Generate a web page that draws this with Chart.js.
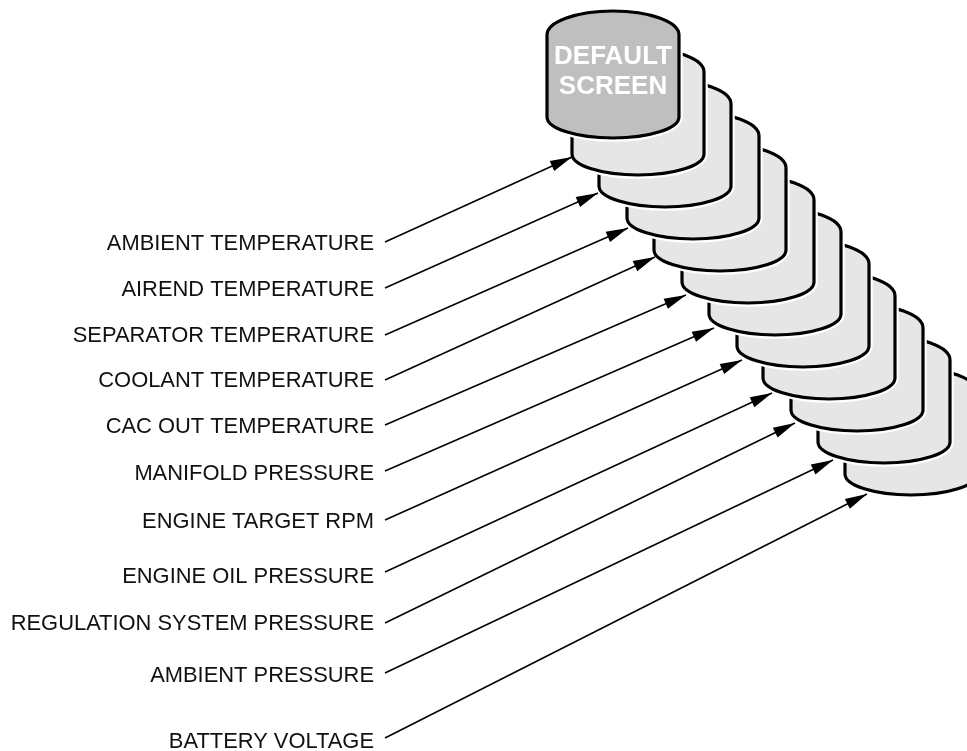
<!DOCTYPE html>
<html lang="en">
<head>
  <meta charset="UTF-8">
  <title>Default Screen Menu</title>
  <script src="https://cdn.jsdelivr.net/npm/chart.js"></script>
  <style>
    html, body { margin: 0; padding: 0; background: #fff; }
  </style>
</head>
<body>
  <canvas id="menu" width="967" height="751"></canvas>
  <script>
    // Menu screens, top one is the default screen
    const screenLabels = [
      "AMBIENT TEMPERATURE",
      "AIREND TEMPERATURE",
      "SEPARATOR TEMPERATURE",
      "COOLANT TEMPERATURE",
      "CAC OUT TEMPERATURE",
      "MANIFOLD PRESSURE",
      "ENGINE TARGET RPM",
      "ENGINE OIL PRESSURE",
      "REGULATION SYSTEM PRESSURE",
      "AMBIENT PRESSURE",
      "BATTERY VOLTAGE"
    ];
    const defaultTitle = ["DEFAULT", "SCREEN"];

    // Stack of screen cards: left edge / bottom edge
    const cardLeft   = [547, 572, 599, 627, 654, 682, 709, 737, 763, 791, 818, 845];
    const cardBottom = [138, 175, 207, 239, 271, 303, 335, 367, 399, 431, 463, 495];

    // Label rows and leader arrows
    const labelRight = 374;
    const labelY     = [243, 289, 335, 380, 426, 473, 521, 576, 623, 675, 741];
    const arrowFromX = 385;
    const arrowFromY = [242, 288, 335, 380, 425, 471, 520, 572, 623, 673, 738];
    const arrowToX   = [572, 598, 628, 655, 686, 714, 742, 772, 795, 833, 867];
    const arrowToY   = [157, 193, 228, 257, 295, 328, 360, 393, 423, 460, 494];

    const CARD_W = 132, CARD_H = 127, CAP_TOP = 24, CAP_BOT = 21;

    function cardPath(ctx, left, bottom) {
      const cx = left + CARD_W / 2, top = bottom - CARD_H;
      ctx.beginPath();
      ctx.moveTo(left, top + CAP_TOP);
      ctx.ellipse(cx, top + CAP_TOP, CARD_W / 2, CAP_TOP, 0, Math.PI, 2 * Math.PI);
      ctx.lineTo(left + CARD_W, bottom - CAP_BOT);
      ctx.ellipse(cx, bottom - CAP_BOT, CARD_W / 2, CAP_BOT, 0, 0, Math.PI);
      ctx.closePath();
    }

    const cardsPlugin = {
      id: "cards",
      beforeDatasetsDraw(chart) {
        const { ctx } = chart;
        const pts = chart.getDatasetMeta(0).data;
        ctx.save();
        ctx.lineJoin = "round";
        // back cards first so the default screen ends up on top
        for (let i = pts.length - 1; i >= 0; i--) {
          const p = pts[i];
          cardPath(ctx, p.x, p.y);
          ctx.strokeStyle = "#fff";
          ctx.lineWidth = 7.5;
          ctx.stroke();
          ctx.fillStyle = i === 0 ? "#bfbfbf" : "#e6e6e6";
          ctx.fill();
          ctx.strokeStyle = "#000";
          ctx.lineWidth = 3.2;
          ctx.stroke();
        }
        // title on the default card
        const p0 = pts[0];
        ctx.fillStyle = "#fff";
        ctx.font = "bold 26px 'Liberation Sans', Arial, sans-serif";
        ctx.textAlign = "center";
        ctx.textBaseline = "middle";
        ctx.fillText(defaultTitle[0], p0.x + CARD_W / 2, p0.y - 81);
        ctx.fillText(defaultTitle[1], p0.x + CARD_W / 2, p0.y - 51);
        ctx.restore();
      },
      afterDatasetsDraw(chart) {
        const { ctx, scales } = chart;
        ctx.save();
        // arrow heads
        chart.data.datasets.forEach((ds, di) => {
          if (!ds.arrow) return;
          const pts = chart.getDatasetMeta(di).data;
          const a = pts[0], b = pts[1];
          const ang = Math.atan2(b.y - a.y, b.x - a.x);
          const len = 22, hw = 5.5;
          ctx.beginPath();
          ctx.moveTo(b.x, b.y);
          ctx.lineTo(b.x - len * Math.cos(ang) + hw * Math.sin(ang), b.y - len * Math.sin(ang) - hw * Math.cos(ang));
          ctx.lineTo(b.x - len * Math.cos(ang) - hw * Math.sin(ang), b.y - len * Math.sin(ang) + hw * Math.cos(ang));
          ctx.closePath();
          ctx.fillStyle = "#000";
          ctx.fill();
        });
        // labels
        ctx.fillStyle = "#111";
        ctx.font = "21.9px 'Liberation Sans', Arial, sans-serif";
        ctx.textAlign = "right";
        ctx.textBaseline = "middle";
        screenLabels.forEach((t, i) => {
          ctx.fillText(t, scales.x.getPixelForValue(labelRight), scales.y.getPixelForValue(labelY[i]) + 1);
        });
        ctx.restore();
      }
    };

    const datasets = [{
      type: "scatter",
      data: cardLeft.map((x, i) => ({ x: x, y: cardBottom[i] })),
      pointRadius: 0
    }];
    screenLabels.forEach((_, i) => {
      datasets.push({
        type: "line",
        arrow: true,
        data: [{ x: arrowFromX, y: arrowFromY[i] }, { x: arrowToX[i], y: arrowToY[i] }],
        borderColor: "#000",
        borderWidth: 1.5,
        pointRadius: 0,
        fill: false
      });
    });

    new Chart(document.getElementById("menu"), {
      type: "scatter",
      data: { datasets },
      options: {
        responsive: false,
        animation: false,
        maintainAspectRatio: false,
        layout: { padding: 0 },
        plugins: { legend: { display: false }, tooltip: { enabled: false } },
        scales: {
          x: { type: "linear", min: 0, max: 967, display: false },
          y: { type: "linear", min: 0, max: 751, reverse: true, display: false }
        }
      },
      plugins: [cardsPlugin]
    });
  </script>
</body>
</html>
